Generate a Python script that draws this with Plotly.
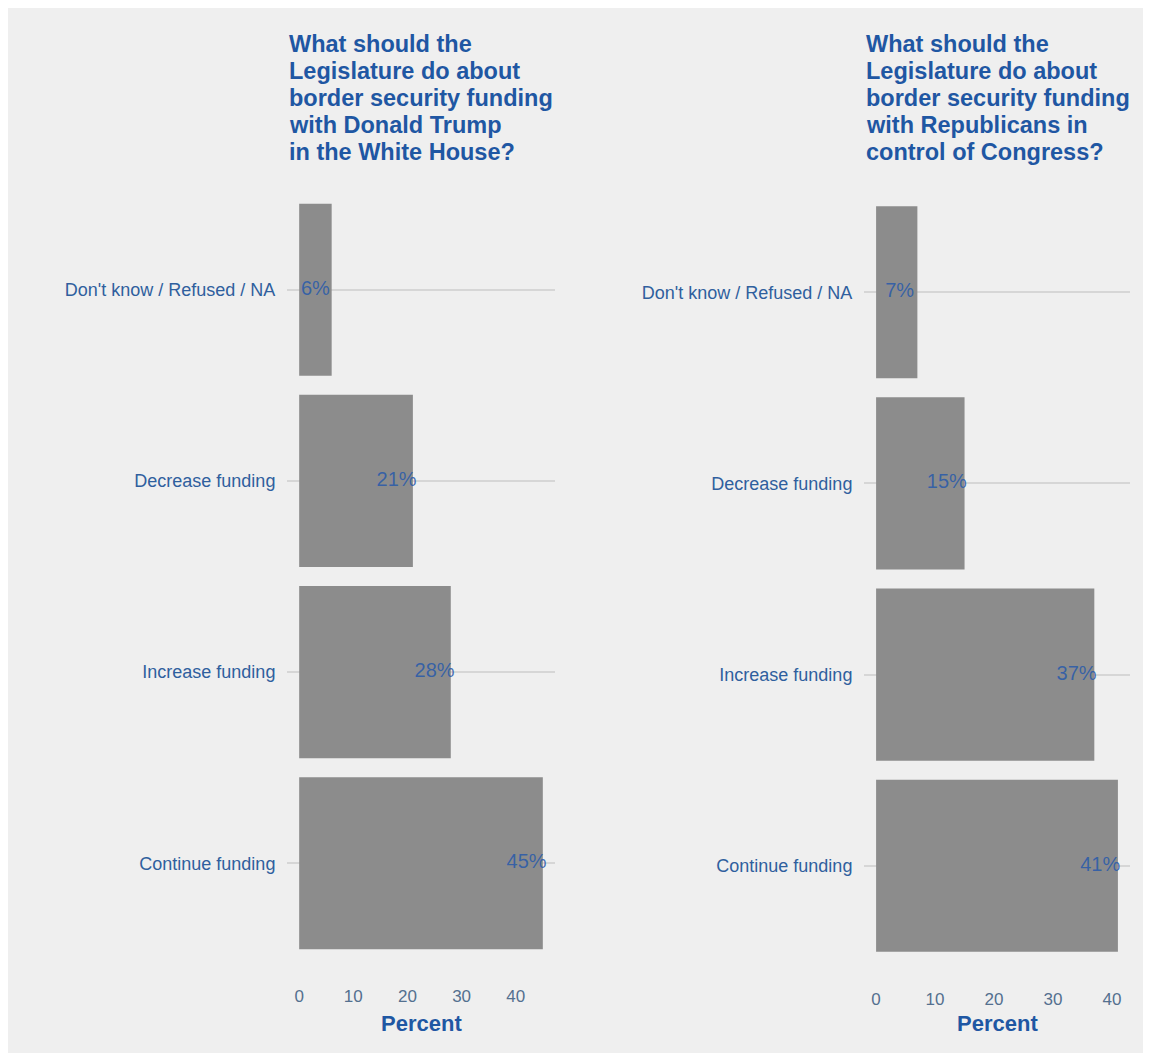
import plotly.graph_objects as go

# ---- data ----
categories = ["Continue funding", "Increase funding", "Decrease funding", "Don't know / Refused / NA"]
trump_pct = [45, 28, 21, 6]
congress_pct = [41, 37, 15, 7]
tick_vals = [0, 10, 20, 30, 40]
title_left = ["What should the", "Legislature do about", "border security funding", "with Donald Trump", "in the White House?"]
title_right = ["What should the", "Legislature do about", "border security funding", "with Republicans in", "control of Congress?"]
axis_title = "Percent"

# The page body has an 8px margin; work in window pixels and convert.
OFF = 8
W, H = 1151 - OFF, 1053 - OFF
BG = "#efefef"
BAR = "#8c8c8c"
TITLE_C = "#1f57a3"
CAT_C = "#2f5f9e"
TICK_C = "#54708f"
VAL_C = "rgba(40,90,170,0.85)"
FONT = "Liberation Sans, Arial, sans-serif"


def px_x(p):
    return (p - OFF) / W


def px_y(p):
    return 1 - (p - OFF) / H


fig = go.Figure()

panels = [
    (trump_pct, "x", "y", title_left, 287, 555, 175, 978),
    (congress_pct, "x2", "y2", title_right, 864, 1130, 177.5, 980.5),
]

for vals, xa, ya, ttl, left, right, top, bottom in panels:
    fig.add_trace(go.Bar(
        x=vals, y=categories, orientation="h", width=0.9,
        marker=dict(color=BAR, line=dict(width=0)),
        xaxis=xa, yaxis=ya, hoverinfo="skip", showlegend=False,
    ))
    fig.add_trace(go.Scatter(
        x=[v - 3 for v in vals], y=categories, mode="text",
        text=[f"{v}%" for v in vals],
        textposition="middle center",
        textfont=dict(family=FONT, size=20, color=VAL_C),
        xaxis=xa, yaxis=ya, hoverinfo="skip", showlegend=False,
    ))
    for i, line in enumerate(ttl):
        fig.add_annotation(
            text=f"<b>{line}</b>", xref="paper", yref="paper",
            x=px_x(left), y=px_y(44 + 27 * i),
            xanchor="left", yanchor="middle", showarrow=False,
            font=dict(family=FONT, size=23.5, color=TITLE_C),
        )
    fig.add_annotation(
        text=f"<b>{axis_title}</b>", xref="paper", yref="paper",
        x=px_x((left + right) / 2), y=px_y(1023),
        xanchor="center", yanchor="middle", showarrow=False,
        font=dict(family=FONT, size=22, color=TITLE_C),
    )

common_x = dict(
    showgrid=False, zeroline=False, showline=False,
    tickmode="array", tickvals=tick_vals,
    ticks="outside", ticklen=3, tickcolor="rgba(0,0,0,0)",
    tickfont=dict(family=FONT, size=17, color=TICK_C),
    fixedrange=True,
)
common_y = dict(
    type="category", categoryorder="array", categoryarray=categories,
    range=[-0.6, 3.6],
    showgrid=True, gridcolor="rgba(0,0,0,0.1)", gridwidth=1.5,
    zeroline=False, showline=False,
    ticks="outside", ticklen=7, tickcolor="rgba(0,0,0,0)",
    tickfont=dict(family=FONT, size=18, color=CAT_C),
    layer="above traces",
    fixedrange=True,
)

fig.update_layout(
    width=W, height=H,
    margin=dict(l=0, r=0, t=0, b=0, autoexpand=False),
    paper_bgcolor=BG,
    plot_bgcolor=BG,
    showlegend=False,
    xaxis=dict(domain=[px_x(287), px_x(555)], range=[-2.25, 47.25], anchor="y", **common_x),
    yaxis=dict(domain=[px_y(978), px_y(175)], anchor="x", **common_y),
    xaxis2=dict(domain=[px_x(864), px_x(1130)], range=[-2.05, 43.05], anchor="y2", **common_x),
    yaxis2=dict(domain=[px_y(980.5), px_y(177.5)], anchor="x2", **common_y),
)

fig.write_html("out.html")
